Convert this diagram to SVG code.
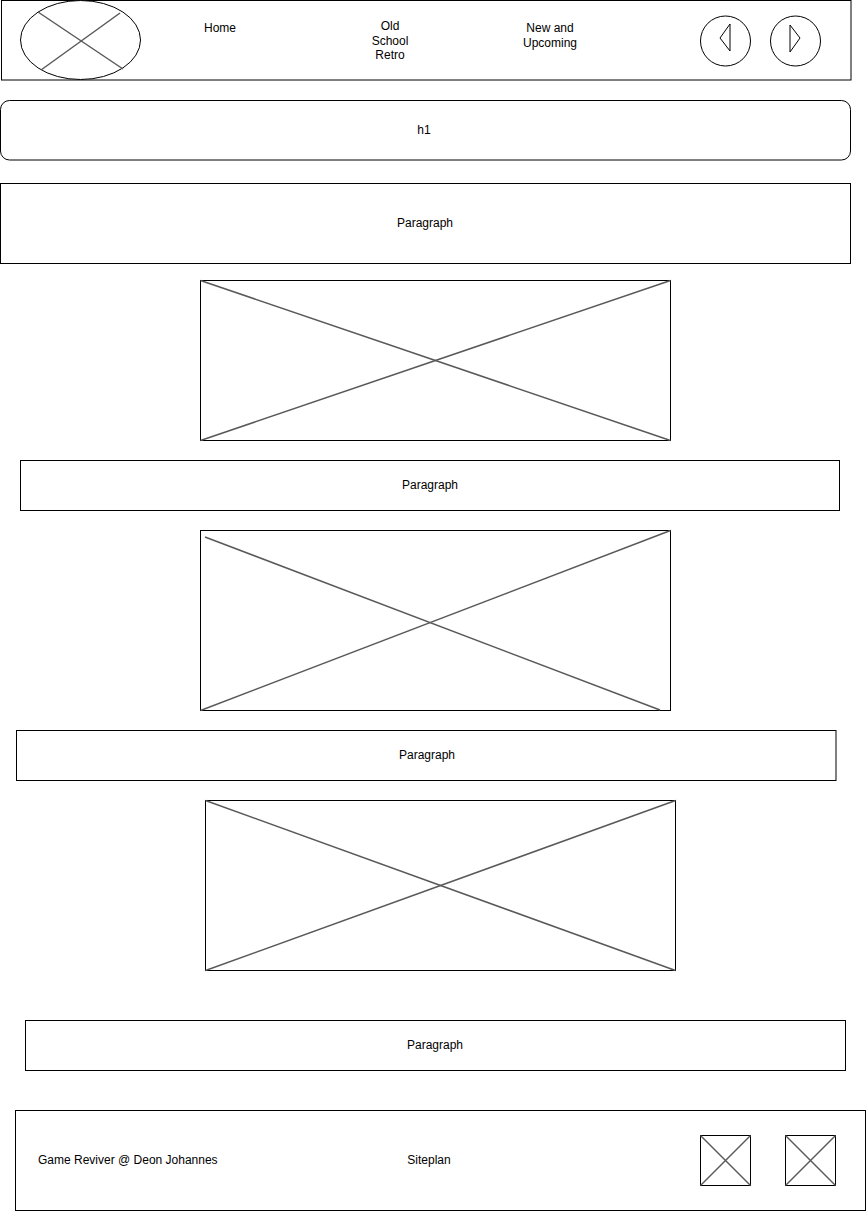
<svg xmlns="http://www.w3.org/2000/svg" width="866" height="1211" viewBox="0 0 866 1211">
<style>
.box{fill:#fff;stroke:#000;stroke-width:1}
.x{stroke:#595959;stroke-width:1.5;fill:none}
.t{font-family:"Liberation Sans",Arial,sans-serif;font-size:12px;fill:#000;text-anchor:middle}
.tl{font-family:"Liberation Sans",Arial,sans-serif;font-size:12px;fill:#000}
</style>
<rect width="866" height="1211" fill="#fff"/>
<g id="header">
<rect class="box" x="1.5" y="0.5" width="849.5" height="79.5"/>
<g id="logo">
<ellipse class="box" cx="80.5" cy="40" rx="60" ry="39.5"/>
<line class="x" x1="38" y1="12" x2="123" y2="69"/>
<line class="x" x1="120" y1="13" x2="41" y2="70"/>
</g>
<text id="nav-home" class="t" x="220" y="32">Home</text>
<text id="nav-old" class="t" x="390" y="30"><tspan x="390">Old</tspan><tspan x="390" dy="14.5">School</tspan><tspan x="390" dy="14.5">Retro</tspan></text>
<text id="nav-new" class="t" x="550" y="32"><tspan x="550">New and</tspan><tspan x="550" dy="15">Upcoming</tspan></text>
<g id="btn-prev">
<circle class="box" cx="725.5" cy="41" r="25"/>
<polygon points="730,24 720,38 730,51" fill="none" stroke="#000" stroke-width="1"/>
</g>
<g id="btn-next">
<circle class="box" cx="795.5" cy="41" r="25"/>
<polygon points="790,25 800,38 790,52" fill="none" stroke="#000" stroke-width="1"/>
</g>
</g>
<g id="h1">
<rect class="box" x="0.5" y="100.5" width="850" height="59.5" rx="9" ry="9"/>
<text class="t" x="424" y="134">h1</text>
</g>
<g id="paragraph-1">
<rect class="box" x="0.5" y="183.5" width="850" height="80"/>
<text class="t" x="425" y="227">Paragraph</text>
</g>
<g id="image-1">
<rect class="box" x="200.5" y="280.5" width="470" height="160"/>
<line class="x" x1="200.5" y1="280.5" x2="670.5" y2="440.5"/>
<line class="x" x1="200.5" y1="440.5" x2="670.5" y2="280.5"/>
</g>
<g id="paragraph-2">
<rect class="box" x="20.5" y="460.5" width="819" height="50"/>
<text class="t" x="430" y="489">Paragraph</text>
</g>
<g id="image-2">
<rect class="box" x="200.5" y="530.5" width="470" height="180"/>
<line class="x" x1="205" y1="537" x2="660" y2="710"/>
<line class="x" x1="200.5" y1="710.5" x2="670.5" y2="530.5"/>
</g>
<g id="paragraph-3">
<rect class="box" x="16.5" y="730.5" width="819.5" height="50"/>
<text class="t" x="427" y="759">Paragraph</text>
</g>
<g id="image-3">
<rect class="box" x="205.5" y="800.5" width="470" height="170"/>
<line class="x" x1="205.5" y1="800.5" x2="675.5" y2="970.5"/>
<line class="x" x1="205.5" y1="970.5" x2="675.5" y2="800.5"/>
</g>
<g id="paragraph-4">
<rect class="box" x="25.5" y="1020.5" width="820" height="50"/>
<text class="t" x="435" y="1049">Paragraph</text>
</g>
<g id="footer">
<rect class="box" x="15.5" y="1110.5" width="850" height="100"/>
<text class="tl" x="38" y="1164">Game Reviver @ Deon Johannes</text>
<text class="t" x="429" y="1164">Siteplan</text>
<g id="icon-1">
<rect class="box" x="700.5" y="1135.5" width="50" height="50"/>
<line class="x" x1="700.5" y1="1135.5" x2="750.5" y2="1185.5" stroke-width="1"/>
<line class="x" x1="700.5" y1="1185.5" x2="750.5" y2="1135.5" stroke-width="1"/>
</g>
<g id="icon-2">
<rect class="box" x="785.5" y="1135.5" width="50" height="50"/>
<line class="x" x1="785.5" y1="1135.5" x2="835.5" y2="1185.5" stroke-width="1"/>
<line class="x" x1="785.5" y1="1185.5" x2="835.5" y2="1135.5" stroke-width="1"/>
</g>
</g>
<g id="connectors"></g>
</svg>
